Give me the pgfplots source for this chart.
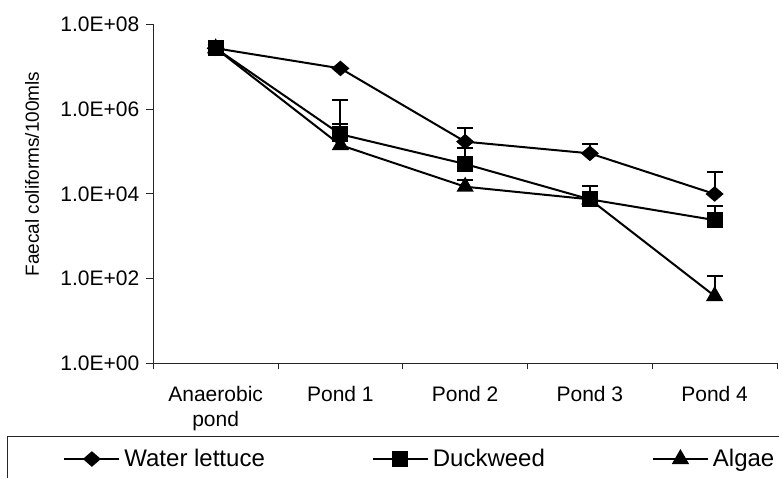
\documentclass[border=0pt]{standalone}
\usepackage{fontspec}
\setmainfont{Liberation Sans}
\usepackage{pgfplots}
\pgfplotsset{compat=1.18}
\usepackage{pgfplotstable}

\pgfplotstableread{
x y e
0 2.72e7 0.5e7
1 9.1e6 0
2 1.70e5 1.93e5
3 9.0e4 6.0e4
4 9.9e3 2.28e4
}\waterlettuce
\pgfplotstableread{
x y e
0 2.72e7 0.5e7
1 2.54e5 1.38e6
2 5.05e4 6.8e4
3 7.4e3 7.9e3
4 2.4e3 2.75e3
}\duckweed
\pgfplotstableread{
x y e
0 2.72e7 0.5e7
1 1.41e5 3.0e5
2 1.47e4 6.5e3
3 7.4e3 3.8e3
4 38.7 78
}\algae

\begin{document}
\begin{tikzpicture}
\begin{axis}[
  scale only axis, width=311.85pt, height=169.5pt,
  at={(0,0)}, anchor=south west,
  ymode=log, ymin=1, ymax=1e8,
  xmin=-0.5, xmax=4.5,
  clip=false,
  axis lines*=left,
  axis line style={black!85, line width=0.5pt},
  ytick={1,100,10000,1000000,100000000},
  yticklabels={1.0E+00,1.0E+02,1.0E+04,1.0E+06,1.0E+08},
  yminorticks=false,
  xtick={0,1,2,3,4},
  xticklabels={{Anaerobic\\pond},Pond 1,Pond 2,Pond 3,Pond 4},
  minor xtick={-0.5,0.5,1.5,2.5,3.5,4.5},
  major x tick style={draw=none},
  tick align=outside,
  major tick length=3.5pt, minor tick length=3pt,
  tick style={black!85, line width=0.5pt},
  /pgf/number format/assume math mode=true,
  xticklabel style={align=center, font=\fontsize{10.5}{12.5}\selectfont, yshift=-4.5pt},
  yticklabel style={font=\fontsize{10.5}{12}\selectfont},
  ylabel={Faecal coliforms/100mls},
  ylabel style={at={(axis description cs:-0.1945,0.558)}, anchor=center, font=\fontsize{9.5}{11}\selectfont},
  legend columns=3,
  legend style={at={(axis description cs:-0.1448,-0.2823)}, anchor=west, draw=none, fill=none, inner sep=0pt,
    font=\fontsize{12}{14}\selectfont,
    /tikz/every even column/.append style={column sep=51.5pt}},
  legend image code/.code={\draw[mark repeat=2,mark phase=2,#1] plot coordinates {(0pt,0pt) (13.75pt,0pt) (27.5pt,0pt)};},
]
\addplot[black, line width=1pt, mark=diamond*, mark size=3.25pt, mark options={xscale=1.54, solid},
  error bars/.cd, y dir=plus, y explicit, error bar style={line width=1pt},
  error mark options={rotate=90, mark size=4pt, line width=1pt, black}]
  table[x=x, y=y, y error=e]{\waterlettuce};
\addlegendentry{Water lettuce}
\addplot[black, line width=1pt, mark=square*, mark size=3.5pt, mark options={solid},
  error bars/.cd, y dir=plus, y explicit, error bar style={line width=1pt},
  error mark options={rotate=90, mark size=4pt, line width=1pt, black}]
  table[x=x, y=y, y error=e]{\duckweed};
\addlegendentry{Duckweed}
\addplot[black, line width=1pt, mark=triangle*, mark size=4pt, mark options={solid},
  error bars/.cd, y dir=plus, y explicit, error bar style={line width=1pt},
  error mark options={rotate=90, mark size=4pt, line width=1pt, black}]
  table[x=x, y=y, y error=e]{\algae};
\addlegendentry{Algae}
\end{axis}
\draw[black!85, line width=0.5pt] (-73pt,-70pt) -- (-73pt,-36.35pt) -- (330pt,-36.35pt);
\pgfresetboundingbox
\useasboundingbox (-76.65pt,-56.85pt) rectangle (312.85pt,181.65pt);
\end{tikzpicture}
\end{document}
